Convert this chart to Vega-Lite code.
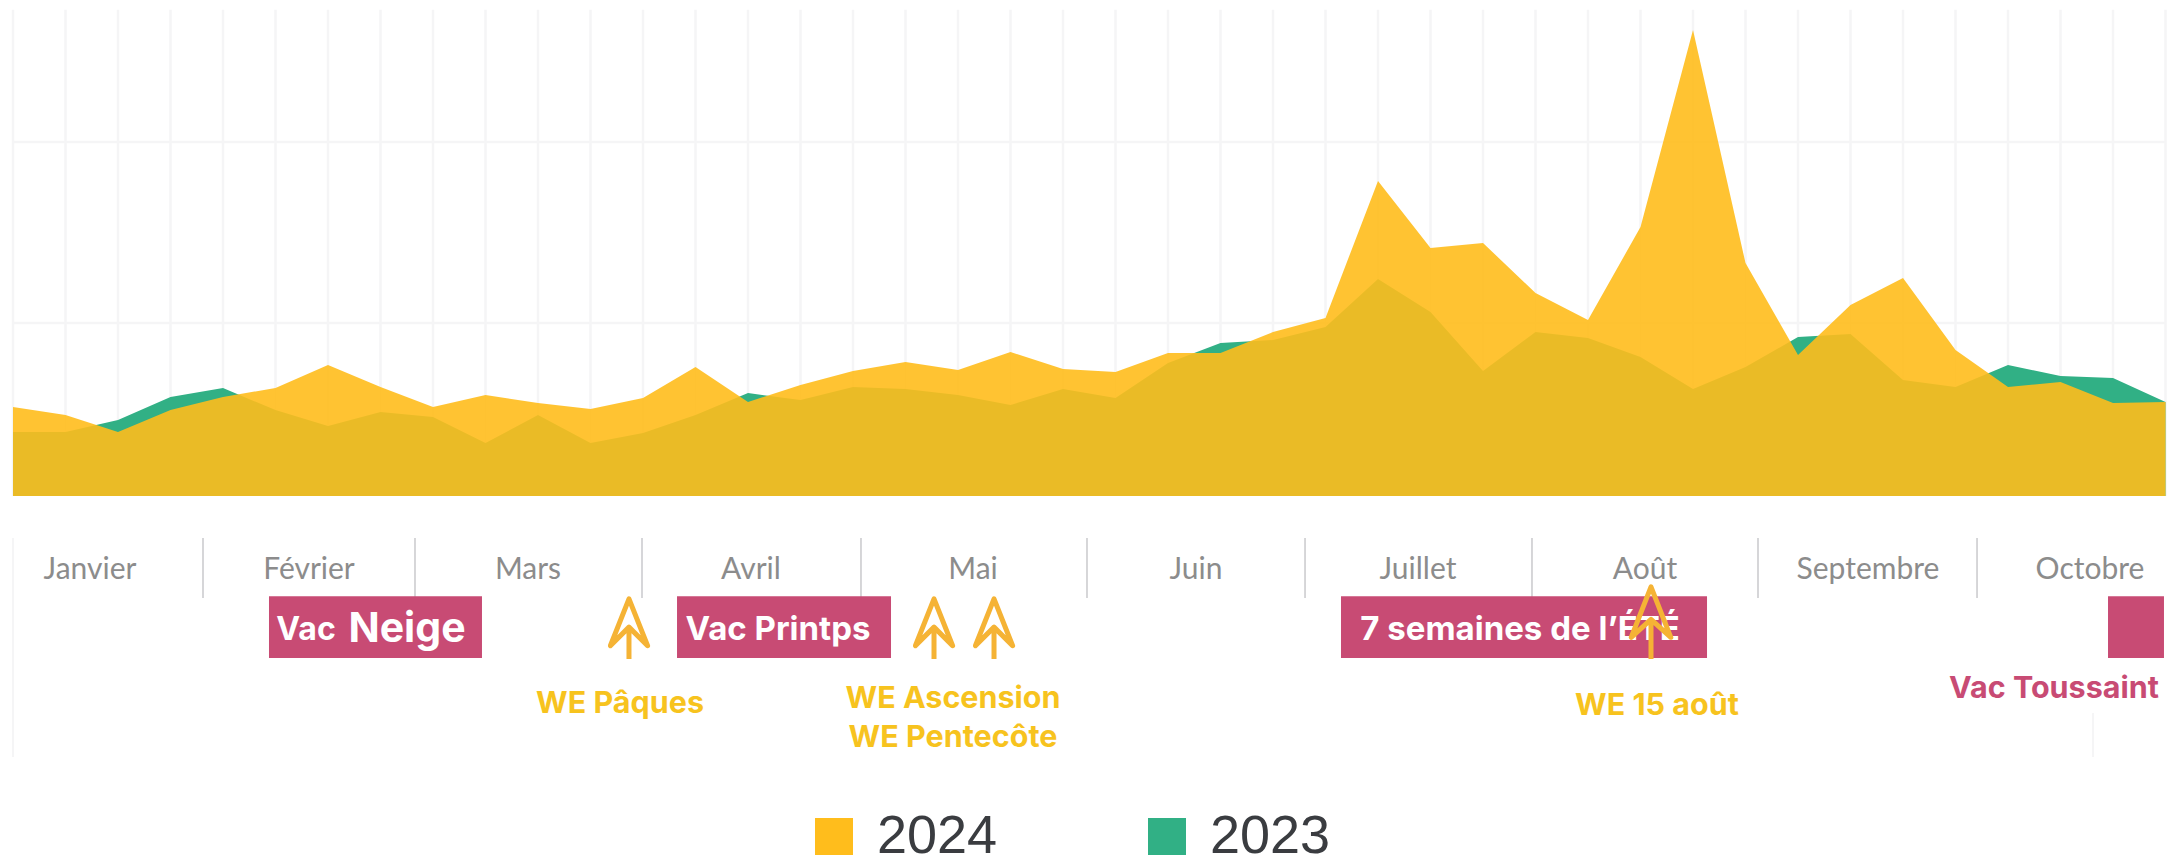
{
"$schema":"https://vega.github.io/schema/vega-lite/v6.json",
"width":2178,"height":855,"padding":0,
"autosize":{"type":"fit","contains":"padding"},
"background":"white",
"config":{"view":{"stroke":null}},
"datasets":{
"weeks":[{"w":0,"v":273},{"w":1,"v":273},{"w":2,"v":273},{"w":3,"v":273},{"w":4,"v":273},{"w":5,"v":273},{"w":6,"v":273},{"w":7,"v":273},{"w":8,"v":273},{"w":9,"v":273},{"w":10,"v":273},{"w":11,"v":273},{"w":12,"v":273},{"w":13,"v":273},{"w":14,"v":273},{"w":15,"v":273},{"w":16,"v":273},{"w":17,"v":273},{"w":18,"v":273},{"w":19,"v":273},{"w":20,"v":273},{"w":21,"v":273},{"w":22,"v":273},{"w":23,"v":273},{"w":24,"v":273},{"w":25,"v":273},{"w":26,"v":273},{"w":27,"v":273},{"w":28,"v":273},{"w":29,"v":273},{"w":30,"v":273},{"w":31,"v":273},{"w":32,"v":273},{"w":33,"v":273},{"w":34,"v":273},{"w":35,"v":273},{"w":36,"v":273},{"w":37,"v":273},{"w":38,"v":273},{"w":39,"v":273},{"w":40,"v":273},{"w":41,"v":273}],
"months":[{"m":"Janvier","w":1.467,"v":-36.3},{"m":"Février","w":5.638,"v":-36.3},{"m":"Mars","w":9.81,"v":-36.3},{"m":"Avril","w":14.057,"v":-36.3},{"m":"Mai","w":18.286,"v":-36.3},{"m":"Juin","w":22.533,"v":-36.3},{"m":"Juillet","w":26.762,"v":-36.3},{"m":"Août","w":31.086,"v":-36.3},{"m":"Septembre","w":35.333,"v":-36.3},{"m":"Octobre","w":39.562,"v":-36.3}],
"seps":[{"w":3.619,"v":-18.8},{"w":7.657,"v":-18.8},{"w":11.981,"v":-18.8},{"w":16.152,"v":-18.8},{"w":20.457,"v":-18.8},{"w":24.61,"v":-18.8},{"w":28.933,"v":-18.8},{"w":33.238,"v":-18.8},{"w":37.41,"v":-18.8}],
"vac":[{"n":"Neige","w":4.876,"w2":8.933,"v":-51,"v2":-85.1},{"n":"Printemps","w":12.648,"w2":16.724,"v":-51,"v2":-85.1},{"n":"Été","w":25.295,"w2":32.267,"v":-51,"v2":-85.1},{"n":"Toussaint","w":39.905,"w2":40.971,"v":-51,"v2":-85.1}],
"arrows":[{"n":"Pâques","w":11.733,"v":-69},{"n":"Ascension","w":17.543,"v":-69},{"n":"Pentecôte","w":18.686,"v":-69}]
},
"data":{"values":[
{"w":0,"v":53.6,"year":"2024"},{"w":1,"v":49.2,"year":"2024"},{"w":2,"v":39.8,"year":"2024"},{"w":3,"v":51.9,"year":"2024"},{"w":4,"v":59.1,"year":"2024"},{"w":5,"v":64.1,"year":"2024"},{"w":6,"v":76.8,"year":"2024"},{"w":7,"v":64.6,"year":"2024"},{"w":8,"v":53.6,"year":"2024"},{"w":9,"v":60.2,"year":"2024"},{"w":10,"v":55.8,"year":"2024"},{"w":11,"v":52.5,"year":"2024"},{"w":12,"v":58.6,"year":"2024"},{"w":13,"v":75.7,"year":"2024"},{"w":14,"v":56.4,"year":"2024"},{"w":15,"v":65.7,"year":"2024"},{"w":16,"v":73.5,"year":"2024"},{"w":17,"v":78.5,"year":"2024"},{"w":18,"v":74.0,"year":"2024"},{"w":19,"v":84.0,"year":"2024"},{"w":20,"v":74.6,"year":"2024"},{"w":21,"v":72.9,"year":"2024"},{"w":22,"v":83.4,"year":"2024"},{"w":23,"v":83.4,"year":"2024"},{"w":24,"v":95.0,"year":"2024"},{"w":25,"v":102.8,"year":"2024"},{"w":26,"v":178.5,"year":"2024"},{"w":27,"v":141.4,"year":"2024"},{"w":28,"v":144.2,"year":"2024"},{"w":29,"v":116.6,"year":"2024"},{"w":30,"v":101.7,"year":"2024"},{"w":31,"v":153.0,"year":"2024"},{"w":32,"v":261.9,"year":"2024"},{"w":33,"v":133.1,"year":"2024"},{"w":34,"v":82.3,"year":"2024"},{"w":35,"v":109.9,"year":"2024"},{"w":36,"v":124.9,"year":"2024"},{"w":37,"v":85.1,"year":"2024"},{"w":38,"v":64.6,"year":"2024"},{"w":39,"v":67.4,"year":"2024"},{"w":40,"v":55.8,"year":"2024"},{"w":41,"v":56.4,"year":"2024"},
{"w":0,"v":39.8,"year":"2023"},{"w":1,"v":39.8,"year":"2023"},{"w":2,"v":46.4,"year":"2023"},{"w":3,"v":59.1,"year":"2023"},{"w":4,"v":64.1,"year":"2023"},{"w":5,"v":51.9,"year":"2023"},{"w":6,"v":43.1,"year":"2023"},{"w":7,"v":50.8,"year":"2023"},{"w":8,"v":48.1,"year":"2023"},{"w":9,"v":33.7,"year":"2023"},{"w":10,"v":49.2,"year":"2023"},{"w":11,"v":33.7,"year":"2023"},{"w":12,"v":39.2,"year":"2023"},{"w":13,"v":49.2,"year":"2023"},{"w":14,"v":61.3,"year":"2023"},{"w":15,"v":57.5,"year":"2023"},{"w":16,"v":64.6,"year":"2023"},{"w":17,"v":63.5,"year":"2023"},{"w":18,"v":60.2,"year":"2023"},{"w":19,"v":54.7,"year":"2023"},{"w":20,"v":63.5,"year":"2023"},{"w":21,"v":58.6,"year":"2023"},{"w":22,"v":77.9,"year":"2023"},{"w":23,"v":89.0,"year":"2023"},{"w":24,"v":90.6,"year":"2023"},{"w":25,"v":97.8,"year":"2023"},{"w":26,"v":124.3,"year":"2023"},{"w":27,"v":106.1,"year":"2023"},{"w":28,"v":73.5,"year":"2023"},{"w":29,"v":95.0,"year":"2023"},{"w":30,"v":91.7,"year":"2023"},{"w":31,"v":81.2,"year":"2023"},{"w":32,"v":63.5,"year":"2023"},{"w":33,"v":75.7,"year":"2023"},{"w":34,"v":92.3,"year":"2023"},{"w":35,"v":93.9,"year":"2023"},{"w":36,"v":68.5,"year":"2023"},{"w":37,"v":64.6,"year":"2023"},{"w":38,"v":76.8,"year":"2023"},{"w":39,"v":70.7,"year":"2023"},{"w":40,"v":69.6,"year":"2023"},{"w":41,"v":56.4,"year":"2023"}
]},
"encoding":{
"x":{"field":"w","type":"quantitative","axis":null,"scale":{"domain":[-0.2476,41.238],"nice":false,"zero":false}},
"y":{"field":"v","type":"quantitative","axis":null,"scale":{"domain":[-193.9,278.45],"nice":false,"zero":false}}
},
"layer":[
{"data":{"name":"weeks"},"mark":{"type":"rule","color":"#f5f5f6","strokeWidth":2.5},"encoding":{"y2":{"datum":4.5}}},
{"data":{"values":[{"w":0,"w2":41,"v":100},{"w":0,"w2":41,"v":200}]},"mark":{"type":"rule","color":"#f5f5f6","strokeWidth":2.5},"encoding":{"x2":{"field":"w2"}}},
{"data":{"values":[{"w":0,"v":-18.8},{"w":39.619,"v":-115.5}]},"mark":{"type":"rule","color":"#f5f5f6","strokeWidth":2},"encoding":{"y2":{"datum":-139.8}}},
{"transform":[{"filter":"datum.year=='2023'"}],"mark":{"type":"area","opacity":1,"interpolate":"linear"},"encoding":{"y2":{"datum":4.5},"color":{"field":"year","type":"nominal","scale":{"domain":["2024","2023"],"range":["#FFBD1C","#31B085"]},"legend":{"title":null,"orient":"none","legendX":807,"legendY":810,"direction":"horizontal","columns":2,"symbolType":"square","symbolSize":1444,"symbolStrokeWidth":0,"labelFont":"Liberation Sans","labelFontSize":54,"labelColor":"#3a3c40","labelOffset":16,"columnPadding":142,"symbolOffset":0,"labelLimit":300,"encode":{"symbols":{"update":{"fill":{"signal":"datum.value=='2024'?'#FFC433':'#31B085'"},"opacity":{"value":1}}}}}}}},
{"transform":[{"filter":"datum.year=='2024'"}],"mark":{"type":"area","opacity":0.9,"interpolate":"linear"},"encoding":{"y2":{"datum":4.5},"color":{"field":"year","type":"nominal"}}},
{"data":{"name":"seps"},"mark":{"type":"rule","color":"#c9c9cc","strokeWidth":1.5},"encoding":{"y2":{"datum":-51.9}}},
{"data":{"name":"months"},"mark":{"type":"text","font":"Lato","fontSize":30,"color":"#8c8c8c","align":"center","baseline":"middle"},"encoding":{"text":{"field":"m"}}},
{"data":{"name":"vac"},"mark":{"type":"rect","color":"#C84B74"},"encoding":{"x2":{"field":"w2"},"y2":{"field":"v2"}}},
{"data":{"values":[{"w":5.581,"v":-69.5,"t":"Vac"}]},"mark":{"type":"text","font":"Inter","fontWeight":"bold","fontSize":32,"color":"white","align":"center","baseline":"middle"},"encoding":{"text":{"field":"t"}}},
{"data":{"values":[{"w":7.505,"v":-69.5,"t":"Neige"}]},"mark":{"type":"text","font":"Inter","fontWeight":"bold","fontSize":41,"color":"white","align":"center","baseline":"middle"},"encoding":{"text":{"field":"t"}}},
{"data":{"values":[{"w":14.571,"v":-69.5,"t":"Vac Printps"},{"w":28.705,"v":-69.5,"t":"7 semaines de l’ÉTÉ"}]},"mark":{"type":"text","font":"Inter","fontWeight":"bold","fontSize":33,"color":"white","align":"center","baseline":"middle"},"encoding":{"text":{"field":"t"}}},
{"data":{"name":"arrows"},"mark":{"type":"point","shape":"M0,-1 L0.62,0.56 L0,-0.06 L-0.62,0.56 Z M0,-0.06 L0,1","size":3600,"filled":false,"stroke":"#F5B335","strokeWidth":5,"strokeJoin":"round","opacity":1}},
{"data":{"values":[{"n":"15 août","w":31.2,"v":-65.7}]},"mark":{"type":"point","shape":"M0,-1 L0.55,0.4 L0,-0.1 L-0.55,0.4 Z M0,-0.1 L0,1","size":5184,"filled":false,"stroke":"#F5B335","strokeWidth":5,"strokeJoin":"round","opacity":1}},
{"data":{"values":[{"w":11.562,"v":-110.5,"t":"WE Pâques"},{"w":17.905,"v":-107.5,"t":"WE Ascension"},{"w":17.905,"v":-129.1,"t":"WE Pentecôte"},{"w":31.314,"v":-111.4,"t":"WE 15 août"}]},"mark":{"type":"text","font":"Inter","fontWeight":"bold","fontSize":30.5,"color":"#F7C31E","align":"center","baseline":"middle"},"encoding":{"text":{"field":"t"}}},
{"data":{"values":[{"w":38.876,"v":-102,"t":"Vac Toussaint"}]},"mark":{"type":"text","font":"Inter","fontWeight":"bold","fontSize":30.5,"color":"#C84B74","align":"center","baseline":"middle"},"encoding":{"text":{"field":"t"}}}
]
}
